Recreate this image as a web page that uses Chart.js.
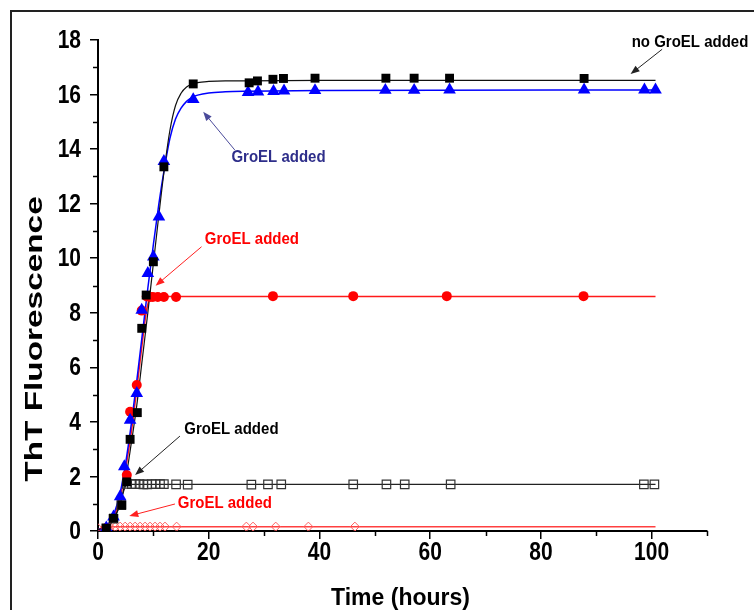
<!DOCTYPE html>
<html>
<head>
<meta charset="utf-8">
<script src="https://cdn.jsdelivr.net/npm/chart.js@4/dist/chart.umd.min.js"></script>
<style>
  html, body { margin: 0; padding: 0; background: #fff; }
  canvas { display: block; }
</style>
</head>
<body>
<canvas id="thtChart" width="754" height="610"></canvas>
<script>
// data (hours / ThT fluorescence) ====================================
// no GroEL added - filled black squares
const noGroelX = [1.5, 2.8, 4.3, 5.2, 5.8, 7.1, 7.9, 8.7, 10.0, 11.9, 17.2, 27.3, 28.8, 31.6, 33.5, 39.2, 52.0, 57.1, 63.5, 87.8];
const noGroelY = [0.1, 0.47, 0.95, 1.8, 3.36, 4.34, 7.43, 8.65, 9.87, 13.35, 16.39, 16.43, 16.5, 16.56, 16.59, 16.6, 16.6, 16.6, 16.6, 16.59];

// GroEL added late - blue triangles
const lateX = [1.5, 2.8, 4.0, 4.75, 5.8, 7.0, 7.9, 9.0, 10.0, 11.0, 11.9, 17.2, 27.1, 28.9, 31.7, 33.6, 39.2, 51.9, 57.1, 63.5, 87.8, 98.7, 100.7];
const lateY = [0.12, 0.52, 1.26, 2.36, 4.07, 5.05, 8.1, 9.45, 10.05, 11.52, 13.55, 15.82, 16.08, 16.1, 16.12, 16.14, 16.15, 16.16, 16.16, 16.17, 16.17, 16.17, 16.17];

// GroEL added at ~9h - red circles
const midX = [1.5, 5.2, 5.8, 7.0, 7.9, 8.8, 9.4, 9.9, 10.8, 11.9, 14.1, 31.6, 46.1, 63.0, 87.7];
const midY = [0.1, 2.05, 4.37, 5.35, 8.08, 8.6, 8.58, 8.58, 8.58, 8.58, 8.58, 8.61, 8.61, 8.61, 8.61];

// GroEL added at ~5h - open black squares
const earlyX = [1.5, 2.8, 4.2, 5.2, 6.1, 6.8, 7.5, 8.2, 8.9, 9.7, 10.4, 11.2, 11.9, 14.1, 16.2, 27.7, 30.7, 33.1, 46.1, 52.1, 55.4, 63.7, 98.6, 100.5];
const earlyY = [0.1, 0.45, 0.95, 1.73, 1.72, 1.72, 1.72, 1.71, 1.71, 1.72, 1.72, 1.72, 1.72, 1.71, 1.7, 1.7, 1.71, 1.71, 1.71, 1.71, 1.71, 1.71, 1.71, 1.71];

// GroEL added at start - open red diamonds
const startX = [0.0, 1.3, 2.2, 3.1, 4.0, 4.9, 5.8, 6.7, 7.6, 8.5, 9.4, 10.3, 11.2, 12.1, 14.2, 26.8, 28.0, 32.1, 38.0, 46.4];
const startY = [0.1, 0.12, 0.14, 0.15, 0.16, 0.16, 0.16, 0.16, 0.16, 0.16, 0.16, 0.16, 0.16, 0.16, 0.16, 0.16, 0.16, 0.16, 0.16, 0.16];

// fitted curves
const fitNoGroelX = [0, 2, 3, 4, 5, 6, 7, 8, 9, 10, 11, 12, 13, 14, 15, 16, 17, 18, 20, 23, 27, 40, 60, 100.7];
const fitNoGroelY = [0.05, 0.2, 0.5, 1.0, 1.9, 3.2, 4.6, 6.3, 8.0, 9.8, 11.6, 13.3, 14.7, 15.6, 16.05, 16.28, 16.38, 16.44, 16.48, 16.5, 16.5, 16.52, 16.52, 16.52];
const fitLateX = [0, 1, 2, 3, 4, 5, 6, 7, 8, 9, 10, 11, 12, 13, 14, 15, 16, 17, 18, 20, 23, 27, 40, 100.7];
const fitLateY = [0.05, 0.1, 0.3, 0.7, 1.4, 2.5, 3.9, 5.5, 7.2, 8.9, 10.5, 12.0, 13.3, 14.4, 15.1, 15.5, 15.75, 15.9, 15.98, 16.06, 16.1, 16.12, 16.15, 16.17];
const fitMidX = [0, 2, 3, 4, 5, 6, 7, 8, 8.7, 9.3, 10, 14, 100.7];
const fitMidY = [0.05, 0.2, 0.6, 1.2, 2.3, 3.6, 5.2, 6.9, 8.0, 8.5, 8.6, 8.6, 8.6];
const fitEarlyX = [0, 2, 3, 4, 4.7, 5.2, 6, 100.7];
const fitEarlyY = [0.05, 0.2, 0.5, 1.0, 1.5, 1.7, 1.71, 1.71];
const fitStartX = [0, 1, 2, 3, 100.7];
const fitStartY = [0.03, 0.1, 0.15, 0.16, 0.16];

// axis ticks
const xTicks = [0, 20, 40, 60, 80, 100];
const yTicks = [0, 2, 4, 6, 8, 10, 12, 14, 16, 18];

// labels with arrows: text position, arrow from -> to (data units)
const notes = [
  { text: "no GroEL added", color: "#000000", arrow: "#222222", tx: 96.4, ty: 17.89, ax: [101.9, 17.66], bx: [96.2, 16.75] },
  { text: "GroEL added", color: "#2e2e8a", arrow: "#4a4a9a", tx: 24.1, ty: 13.68, ax: [24.7, 13.97], bx: [19.0, 15.37] },
  { text: "GroEL added", color: "#ff0000", arrow: "#ff2020", tx: 19.3, ty: 10.67, ax: [18.7, 10.42], bx: [10.4, 8.99] },
  { text: "GroEL added", color: "#000000", arrow: "#222222", tx: 15.6, ty: 3.70, ax: [14.8, 3.48], bx: [6.7, 2.05] },
  { text: "GroEL added", color: "#ff0000", arrow: "#ff2020", tx: 14.4, ty: 0.99, ax: [13.9, 0.99], bx: [5.65, 0.55] },
];

function toPoints(xs, ys) {
  return xs.map(function (x, i) {
    return { x: x, y: ys[i] };
  });
}

const FONT = "'Liberation Sans', Arial, sans-serif";

// text squeezed like the original scan (taller than wide)
function tallText(ctx, str, x, y, sx, sy) {
  ctx.save();
  ctx.translate(x, y);
  ctx.scale(sx, sy);
  ctx.fillText(str, 0, 0);
  ctx.restore();
}

// tick labels, minor ticks, titles, arrows, frame
const extrasPlugin = {
  id: "extras",
  afterDraw: function (chart) {
    let ctx = chart.ctx;
    let xs = chart.scales.x;
    let ys = chart.scales.y;
    ctx.save();

    // minor ticks
    ctx.strokeStyle = "#000";
    ctx.lineWidth = 1.5;
    ctx.beginPath();
    for (let v = 10; v <= 110; v += 20) {
      let px = Math.round(xs.getPixelForValue(v)) + 0.5;
      ctx.moveTo(px, ys.bottom);
      ctx.lineTo(px, ys.bottom + 5);
    }
    for (let v = 1; v <= 17; v += 2) {
      let py = Math.round(ys.getPixelForValue(v)) + 0.5;
      ctx.moveTo(xs.left, py);
      ctx.lineTo(xs.left - 5, py);
    }
    ctx.stroke();

    // tick labels
    ctx.fillStyle = "#000";
    ctx.font = "bold 21px " + FONT;
    ctx.textBaseline = "middle";
    ctx.textAlign = "center";
    xs.ticks.forEach(function (t) {
      tallText(ctx, String(t.value), xs.getPixelForValue(t.value), ys.bottom + 22, 1, 1.22);
    });
    ctx.textAlign = "right";
    ys.ticks.forEach(function (t) {
      tallText(ctx, String(t.value), xs.left - 17, ys.getPixelForValue(t.value) + 1, 1, 1.22);
    });

    // axis titles
    ctx.font = "bold 23px " + FONT;
    ctx.textAlign = "center";
    tallText(ctx, "Time (hours)", (xs.left + xs.right) / 2 - 2, 598, 1, 1.05);
    ctx.save();
    ctx.translate(36, 339);
    ctx.rotate(-Math.PI / 2);
    ctx.scale(1.45, 1);
    ctx.fillText("ThT Fluorescence", 0, 0);
    ctx.restore();

    // labels and arrows
    ctx.font = "bold 15px " + FONT;
    ctx.textAlign = "left";
    notes.forEach(function (n) {
      ctx.fillStyle = n.color;
      tallText(ctx, n.text, xs.getPixelForValue(n.tx), ys.getPixelForValue(n.ty), 1, 1.05);
      let x1 = xs.getPixelForValue(n.ax[0]);
      let y1 = ys.getPixelForValue(n.ax[1]);
      let x2 = xs.getPixelForValue(n.bx[0]);
      let y2 = ys.getPixelForValue(n.bx[1]);
      let ang = Math.atan2(y2 - y1, x2 - x1);
      ctx.strokeStyle = n.arrow;
      ctx.fillStyle = n.arrow;
      ctx.lineWidth = 1;
      ctx.beginPath();
      ctx.moveTo(x1, y1);
      ctx.lineTo(x2 - 6 * Math.cos(ang), y2 - 6 * Math.sin(ang));
      ctx.stroke();
      ctx.beginPath();
      ctx.moveTo(x2, y2);
      ctx.lineTo(x2 - 9 * Math.cos(ang) + 3.5 * Math.sin(ang), y2 - 9 * Math.sin(ang) - 3.5 * Math.cos(ang));
      ctx.lineTo(x2 - 9 * Math.cos(ang) - 3.5 * Math.sin(ang), y2 - 9 * Math.sin(ang) + 3.5 * Math.cos(ang));
      ctx.closePath();
      ctx.fill();
    });

    // outer frame
    ctx.strokeStyle = "#222";
    ctx.lineWidth = 2;
    ctx.strokeRect(11, 11, 800, 700);
    ctx.restore();
  },
};

function makechart(domId) {
  let chartArea = document.getElementById(domId).getContext("2d");
  let mychart = new Chart(chartArea, {
    type: "scatter",
    data: {
      datasets: [
        // markers
        { data: toPoints(noGroelX, noGroelY), pointStyle: "rect", pointRadius: 6.3, backgroundColor: "#000", borderColor: "#000", borderWidth: 0, showLine: false },
        { data: toPoints(lateX, lateY), pointStyle: "triangle", pointRadius: 7.3, backgroundColor: "#0000ff", borderColor: "#0000ff", borderWidth: 0, showLine: false },
        { data: toPoints(midX, midY), pointStyle: "circle", pointRadius: 5, backgroundColor: "#ff0000", borderColor: "#ff0000", borderWidth: 0, showLine: false },
        { data: toPoints(earlyX, earlyY), pointStyle: "rect", pointRadius: 6, backgroundColor: "rgba(255,255,255,0)", borderColor: "#333", borderWidth: 1.2, showLine: false },
        { data: toPoints(startX, startY), pointStyle: "rectRot", pointRadius: 4.5, backgroundColor: "rgba(255,255,255,0)", borderColor: "#ff6060", borderWidth: 1, showLine: false },
        // fit lines
        { data: toPoints(fitNoGroelX, fitNoGroelY), showLine: true, pointRadius: 0, borderColor: "#111", borderWidth: 1.2, cubicInterpolationMode: "monotone" },
        { data: toPoints(fitLateX, fitLateY), showLine: true, pointRadius: 0, borderColor: "#0000ff", borderWidth: 1.5, cubicInterpolationMode: "monotone" },
        { data: toPoints(fitMidX, fitMidY), showLine: true, pointRadius: 0, borderColor: "#ff1a1a", borderWidth: 1.5, cubicInterpolationMode: "monotone" },
        { data: toPoints(fitEarlyX, fitEarlyY), showLine: true, pointRadius: 0, borderColor: "#222", borderWidth: 1.2, cubicInterpolationMode: "monotone" },
        { data: toPoints(fitStartX, fitStartY), showLine: true, pointRadius: 0, borderColor: "#ff4040", borderWidth: 1.5, cubicInterpolationMode: "monotone" },
      ],
    },
    options: {
      responsive: false,
      animation: false,
      layout: { padding: { left: 0, top: 40, right: 47, bottom: 0 } },
      plugins: { legend: { display: false }, tooltip: { enabled: false } },
      scales: {
        x: {
          type: "linear",
          min: 0,
          max: 110,
          afterFit: function (s) { s.height = 79; },
          afterBuildTicks: function (s) { s.ticks = xTicks.map(function (v) { return { value: v }; }); },
          border: { display: true, color: "#000", width: 2 },
          grid: { drawOnChartArea: false, drawTicks: true, tickLength: 8, color: "#000", lineWidth: 1.5 },
          ticks: { display: false },
        },
        y: {
          min: 0,
          max: 18,
          afterFit: function (s) { s.width = 98; },
          afterBuildTicks: function (s) { s.ticks = yTicks.map(function (v) { return { value: v }; }); },
          border: { display: true, color: "#000", width: 2 },
          grid: { drawOnChartArea: false, drawTicks: true, tickLength: 8, color: "#000", lineWidth: 1.5 },
          ticks: { display: false },
        },
      },
    },
    plugins: [extrasPlugin],
  });
  return mychart;
}

window.addEventListener("load", function () {
  makechart("thtChart");
});
</script>
</body>
</html>
